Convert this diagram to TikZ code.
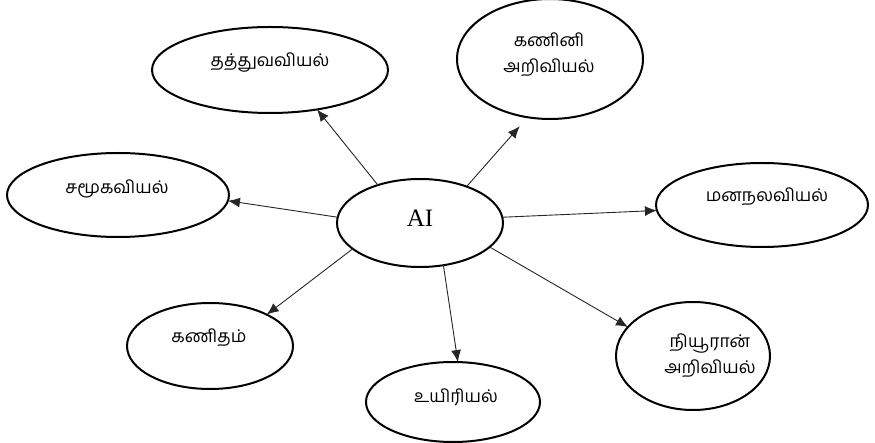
\documentclass[tikz,border=0pt]{standalone}
\usepackage{fontspec}
\setmainfont{Liberation Serif}
\newfontfamily\tamil[Script=Tamil]{Hind Madurai}
\usetikzlibrary{shapes.geometric,arrows.meta}
\tikzset{
  ell/.style={draw=black, line width=2pt, ellipse, inner sep=0pt, outer sep=0pt},
  lbl/.style={inner sep=0pt, font=\tamil\fontsize{17.5}{26}\selectfont, align=center},
  conn/.style={draw=black!85, line width=0.9pt, -{Latex[length=12pt,width=10pt]}}
}
\begin{document}
\begin{tikzpicture}[x=1pt,y=-1pt]
\useasboundingbox (0,0) rectangle (875,443);
% ellipses
\node[ell, minimum width=166pt, minimum height=88pt] (ai) at (420,223) {};
\node[ell, minimum width=236pt, minimum height=86pt] (phi) at (270,70) {};
\node[ell, minimum width=186pt, minimum height=120pt] (kan) at (550,59) {};
\node[ell, minimum width=222pt, minimum height=84pt] (samu) at (118,195) {};
\node[ell, minimum width=212pt, minimum height=84pt] (mana) at (762,205) {};
\node[ell, minimum width=166pt, minimum height=86pt] (kani) at (210,346) {};
\node[ell, minimum width=174pt, minimum height=80pt] (uyir) at (453,402) {};
\node[ell, minimum width=154pt, minimum height=108pt] (neu) at (693,356) {};
% labels
\node[inner sep=0pt, font=\fontsize{25}{28}\selectfont] (ait) at (420,218) {AI};
\node[lbl] (phit) at (270,63) {தத்துவவியல்};
\node[lbl] (kant) at (549,55) {கணினி\\அறிவியல்};
\node[lbl] (samut) at (117,189) {சமூகவியல்};
\node[lbl] (manat) at (767,197) {மனநலவியல்};
\node[lbl] (kanit) at (209,338) {கணிதம்};
\node[lbl] (uyirt) at (456,397) {உயிரியல்};
\node[lbl] (neut) at (710,356) {நியூரான்\\அறிவியல்};
% connectors
\draw[conn] (ai.138) -- (phi.-40);
\draw[conn, shorten >=12pt] (ai.38) -- (kan.-111);
\draw[conn] (ai.176) -- (samu.-3);
\draw[conn] (ai.4) -- (mana.183);
\draw[conn] (ai.201.6) -- (kani.29);
\draw[conn] (ai.-61) -- (uyir.83);
\draw[conn] (ai.-19.7) -- (neu.156.7);
\end{tikzpicture}
\end{document}
